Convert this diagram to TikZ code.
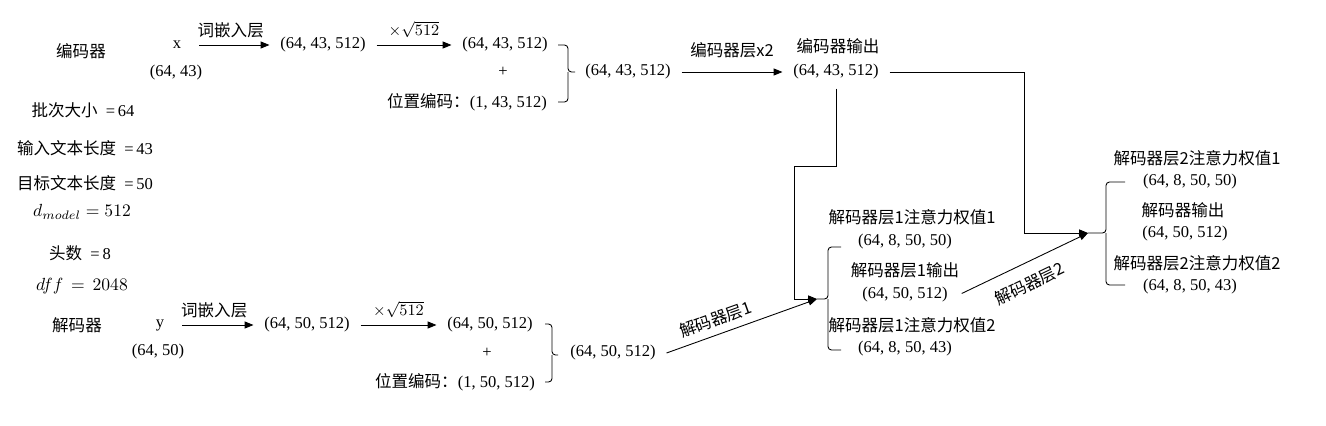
\documentclass[tikz,border=0pt]{standalone}
\usepackage{fontspec}
\setmainfont{Liberation Serif}
\newfontfamily\cjk{Noto Sans CJK SC}
\usetikzlibrary{arrows.meta}

\begin{document}
\begin{tikzpicture}[
		x=0.02cm, y=-0.02cm,
		font=\fontsize{9.4}{11}\selectfont,
		every node/.style={inner xsep=6pt, inner ysep=1pt},
		arr/.style={-{Triangle[length=5pt,width=4pt]}, line width=0.5pt},
		brk/.style={rounded corners=2pt, line width=0.5pt}
	]
	\useasboundingbox (0,0) rectangle (1326,426);

	% parameters
	\node (enc) at (81,51) {\cjk 编码器};
	\node (batch) at (83,110) {{\cjk 批次大小}~ =\,64};
	\node (srclen) at (85,148) {{\cjk 输入文本长度}~ =\,43};
	\node (tgtlen) at (85,183) {{\cjk 目标文本长度}~ =\,50};
	\node (dmodel) at (82,212) {\fontsize{10}{12}\selectfont $d_{model} = 512$};
	\node (heads) at (80,253) {{\cjk 头数}~ =\,8};
	\node (dff) at (82,286) {\fontsize{10}{12}\selectfont $dff\, =\, 2048$};
	\node (dec) at (77,325) {\cjk 解码器};

	% encoder row
	\node (x) at (177,45) {x};
	\node (xshape) at (176,73) {(64, 43)};
	\node (emb1) at (323,45) {(64, 43, 512)};
	\node (sc1) at (505,45) {(64, 43, 512)};
	\node (plus1) at (503,72) {+};
	\node (pe1) at (467,102) {{\cjk 位置编码：}(1, 43, 512)};
	\node (sum1) at (628,72) {(64, 43, 512)};
	\node (encname) at (838,46) {\cjk 编码器输出};
	\node (encout) at (836,72) {(64, 43, 512)};

	\draw[arr, shorten <=4pt] (x) -- node[above=3pt]{\cjk 词嵌入层} (emb1);
	\draw[arr] (emb1) -- node[above=3pt]{$\times\sqrt{512}$} (sc1);
	\draw[brk] (558,45) -| (568,72) -- (575,72);
	\draw[brk] (558,102) -| (568,72);
	\draw[arr] (sum1) -- node[above=7pt]{\cjk 编码器层x2} (encout);

	% decoder row
	\node (y) at (160,325) {y};
	\node (yshape) at (158,352) {(64, 50)};
	\node (emb2) at (307,325) {(64, 50, 512)};
	\node (sc2) at (490,325) {(64, 50, 512)};
	\node (plus2) at (487,353) {+};
	\node (pe2) at (455,382) {{\cjk 位置编码：}(1, 50, 512)};
	\node (sum2) at (613,353) {(64, 50, 512)};

	\draw[arr, shorten <=4pt] (y) -- node[above=3pt]{\cjk 词嵌入层} (emb2);
	\draw[arr] (emb2) -- node[above=3pt]{$\times\sqrt{512}$} (sc2);
	\draw[brk] (545,324) -| (552,355) -- (558,355);
	\draw[brk] (545,382) -| (552,355);

	% decoder layer 1
	\node (d1w1) at (912,217) {\cjk 解码器层1注意力权值1};
	\node (d1w1s) at (905,242) {(64, 8, 50, 50)};
	\node (d1name) at (905,270) {\cjk 解码器层1输出};
	\node (d1out) at (905,295) {(64, 50, 512)};
	\node (d1w2) at (912,325) {\cjk 解码器层1注意力权值2};
	\node (d1w2s) at (905,349) {(64, 8, 50, 43)};
	\coordinate (d1in) at (817,299);
	\coordinate (turnB) at (794,166);
	\draw[brk] (841,247) -| (828,299) -- (817,299);
	\draw[brk] (841,350) -| (828,299);

	% decoder layer 2
	\node (d2w1) at (1197,158) {\cjk 解码器层2注意力权值1};
	\node (d2w1s) at (1190,182) {(64, 8, 50, 50)};
	\node (d2name) at (1183,210) {\cjk 解码器输出};
	\node (d2out) at (1185,234) {(64, 50, 512)};
	\node (d2w2) at (1197,263) {\cjk 解码器层2注意力权值2};
	\node (d2w2s) at (1190,287) {(64, 8, 50, 43)};
	\coordinate (d2in) at (1088,233);
	\coordinate (turnA) at (1024,233);
	\draw[brk] (1125,182) -| (1106,233) -- (1088,233);
	\draw[brk] (1125,285) -| (1106,233);

	% connections
	\draw[arr] (sum2.east) -- node[sloped, above=3pt, pos=0.36]{\cjk 解码器层1} (d1in);
	\draw[arr, shorten <=4pt] (encout.south) |- (turnB) |- (d1in);
	\draw[arr] (encout) -| (turnA) -- (d2in);
	\draw[arr, shorten <=2pt] (d1out.east) -- node[sloped, below=6pt, pos=0.48]{\cjk 解码器层2} (d2in);
\end{tikzpicture}
\end{document}
